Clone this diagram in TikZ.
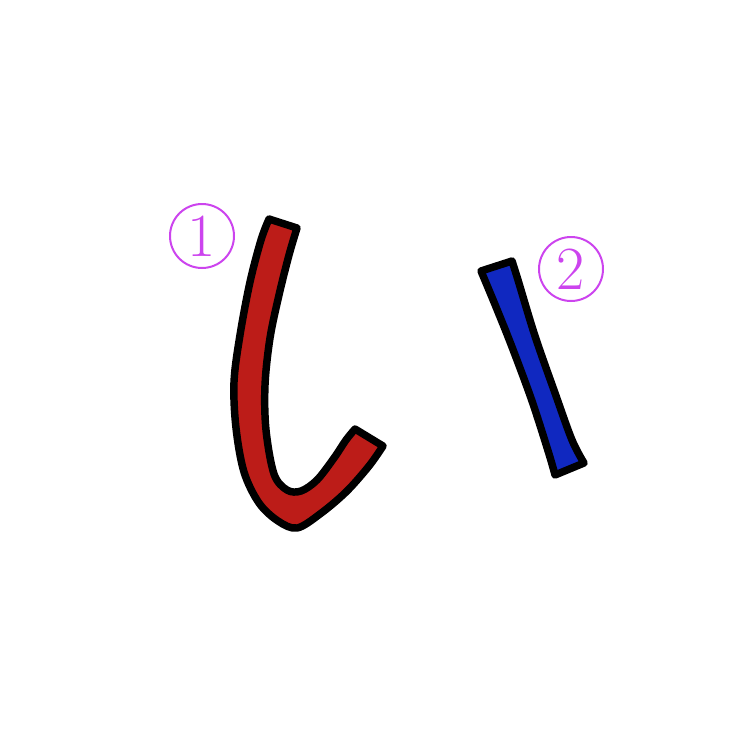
\documentclass[tikz,border=0pt]{standalone}
\begin{document}
\begin{tikzpicture}[x=0.75pt,y=-0.75pt]
\definecolor{strokered}{HTML}{BC1C18}
\definecolor{strokeblue}{HTML}{1028C0}
\definecolor{numpurple}{HTML}{CC44EE}
\tikzset{
  brush/.style={draw=black,line width=5.6pt,line join=round,line cap=round},
  numcircle/.style={circle,draw=numpurple,line width=1.5pt,minimum size=48pt,inner sep=0pt,text=numpurple,font=\fontsize{46}{46}\selectfont}
}
\useasboundingbox (0,0) rectangle (752,746);
% stroke 1 (red)
\path[brush,fill=strokered] (269,219) -- (297,228)
  -- plot[smooth,tension=0.55] coordinates {(297,228) (289,255) (279,295) (270,338) (265,385) (266,430) (274,474) (287,490) (301,491) (317,480) (334,458) (346,440) (355,429)}
  -- (383,446)
  -- plot[smooth,tension=0.55] coordinates {(383,446) (369,466) (346,492) (320,514) (297,528) (278,521) (259,503) (244,472) (236,428) (234,382) (240,335) (250,282) (261,240) (269,219)}
  -- cycle;
% stroke 2 (blue)
\path[brush,fill=strokeblue] (481,271) -- (512,261)
  -- plot[smooth,tension=0.55] coordinates {(512,261) (518,280) (535,336) (555,393) (572,440) (584,463)}
  -- (555,475)
  -- plot[smooth,tension=0.55] coordinates {(555,475) (549,454) (532,401) (512,347) (496,307) (481,271)}
  -- cycle;
% numbers
\node[numcircle] (n1) at (202,236) {1};
\node[numcircle] (n2) at (571,269) {2};
\end{tikzpicture}
\end{document}
